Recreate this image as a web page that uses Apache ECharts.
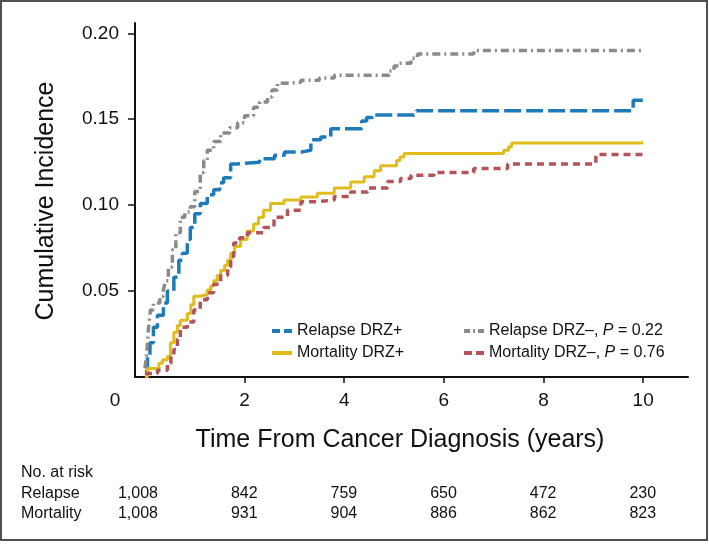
<!DOCTYPE html>
<html><head><meta charset="utf-8">
<script src="https://cdn.jsdelivr.net/npm/echarts@6/dist/echarts.min.js"></script>
<style>html,body{margin:0;padding:0;background:#fff}#c{width:709px;height:544px}</style>
</head><body><div id="c"></div>
<script>
// ---- data ----
const relapsePosX = [0, 0.05, 0.1, 0.17, 0.25, 0.37, 0.45, 0.58, 0.68, 0.75, 0.85, 0.91, 1.0, 1.11, 1.25, 1.38, 1.5, 1.58, 1.72, 1.85, 2.3, 2.6, 2.8, 3.16, 3.33, 3.53, 3.73, 4.35, 4.45, 4.57, 5.4, 5.45, 9.8, 10];
const relapsePosY = [0.003, 0.012, 0.02, 0.029, 0.036, 0.043, 0.05, 0.058, 0.068, 0.072, 0.08, 0.087, 0.095, 0.101, 0.106, 0.109, 0.113, 0.116, 0.124, 0.125, 0.127, 0.129, 0.131, 0.132, 0.138, 0.1396, 0.1445, 0.149, 0.151, 0.1525, 0.1535, 0.155, 0.161, 0.161];

const relapseNegX = [0, 0.04, 0.07, 0.11, 0.17, 0.3, 0.37, 0.41, 0.47, 0.55, 0.62, 0.71, 0.8, 0.91, 1.0, 1.11, 1.18, 1.25, 1.38, 1.52, 1.7, 1.86, 2.0, 2.18, 2.3, 2.46, 2.55, 2.66, 2.86, 3.13, 3.5, 3.8, 4.9, 5.0, 5.1, 5.34, 5.47, 6.6, 10];
const relapseNegY = [0.005, 0.015, 0.028, 0.039, 0.043, 0.047, 0.0505, 0.056, 0.064, 0.074, 0.084, 0.093, 0.096, 0.099, 0.108, 0.119, 0.126, 0.132, 0.137, 0.142, 0.145, 0.148, 0.152, 0.157, 0.16, 0.163, 0.167, 0.171, 0.1715, 0.1727, 0.174, 0.1756, 0.178, 0.181, 0.1826, 0.1855, 0.188, 0.190, 0.190];

const mortPosX = [0, 0.05, 0.28, 0.35, 0.45, 0.51, 0.58, 0.65, 0.71, 0.85, 0.92, 0.98, 1.11, 1.25, 1.32, 1.38, 1.45, 1.52, 1.6, 1.66, 1.72, 1.8, 1.92, 2.05, 2.18, 2.28, 2.38, 2.52, 2.79, 3.13, 3.46, 3.8, 4.13, 4.4, 4.6, 4.73, 5.05, 5.12, 5.2, 7.2, 7.3, 7.36, 10];
const mortPosY = [0.0, 0.005, 0.008, 0.010, 0.012, 0.020, 0.026, 0.03, 0.033, 0.037, 0.042, 0.047, 0.048, 0.0506, 0.053, 0.056, 0.059, 0.062, 0.065, 0.068, 0.072, 0.076, 0.080, 0.085, 0.089, 0.093, 0.097, 0.101, 0.103, 0.1047, 0.107, 0.110, 0.1135, 0.1165, 0.120, 0.123, 0.126, 0.128, 0.130, 0.132, 0.134, 0.1362, 0.1362];

const mortNegX = [0, 0.25, 0.45, 0.52, 0.58, 0.65, 0.71, 0.85, 0.98, 1.11, 1.25, 1.38, 1.52, 1.66, 1.72, 1.78, 1.9, 2.06, 2.38, 2.59, 2.86, 3.13, 3.46, 3.8, 4.13, 4.47, 4.87, 5.13, 5.34, 5.8, 6.6, 7.28, 9.05, 10];
const mortNegY = [0.002, 0.004, 0.008, 0.012, 0.016, 0.022, 0.029, 0.032, 0.039, 0.045, 0.049, 0.054, 0.059, 0.064, 0.07, 0.078, 0.081, 0.084, 0.087, 0.093, 0.097, 0.102, 0.103, 0.105, 0.1077, 0.110, 0.1137, 0.1155, 0.1174, 0.119, 0.1213, 0.124, 0.1295, 0.1295];

const seriesNames = ['Relapse DRZ+', 'Mortality DRZ+', 'Relapse DRZ\u2013, P = 0.22', 'Mortality DRZ\u2013, P = 0.76'];
const xTicks = [2, 4, 6, 8, 10];
const xLabelValues = [0, 2, 4, 6, 8, 10];
const yTicks = [0.05, 0.10, 0.15, 0.20];
const riskTimes = [0, 2, 4, 6, 8, 10];
const riskRelapse = ['1,008', '842', '759', '650', '472', '230'];
const riskMortality = ['1,008', '931', '904', '886', '862', '823'];
const riskRowLabels = ['No. at risk', 'Relapse', 'Mortality'];
const xTitle = 'Time From Cancer Diagnosis (years)';
const yTitle = 'Cumulative Incidence';

// ---- chart ----
const FONT = "'Liberation Sans', Arial, sans-serif";
const INK = '#111111';
function pairs(xs, ys) { return xs.map((x, i) => [x, ys[i]]); }

const chart = echarts.init(document.getElementById('c'), null, { renderer: 'canvas' });

function lineSeries(name, xs, ys, color, type, width) {
  return {
    name: name, type: 'line', step: 'end',
    symbol: 'none', showSymbol: false,
    data: pairs(xs, ys),
    lineStyle: { color: color, width: width, type: type },
    itemStyle: { color: color },
    emphasis: { disabled: true },
    z: 3
  };
}

const legendBase = {
  top: 323, orient: 'vertical', padding: 0, itemWidth: 20, itemHeight: 12, itemGap: 6,
  itemStyle: { opacity: 0 },
  lineStyle: { width: 4 }
};

const option = {
  animation: false,
  backgroundColor: '#fff',
  grid: { left: 135, right: 21, top: 23, bottom: 167, containLabel: false },
  xAxis: {
    type: 'value', min: -0.2, max: 10.9,
    axisLine: { show: true, onZero: false, lineStyle: { color: INK, width: 2 } },
    axisTick: { show: true, length: 6, customValues: xTicks, lineStyle: { color: INK, width: 1.5 } },
    axisLabel: {
      customValues: xLabelValues, margin: 14, fontSize: 19, color: INK, fontFamily: FONT,
      formatter: v => (v === 0 ? '{z|0}' : String(v)),
      rich: { z: { padding: [0, 60, 0, 0], fontSize: 19, color: INK, fontFamily: FONT } }
    },
    splitLine: { show: false }
  },
  yAxis: {
    type: 'value', min: 0, max: 0.206,
    axisLine: { show: true, onZero: false, lineStyle: { color: INK, width: 2 } },
    axisTick: { show: true, length: 7, customValues: yTicks, lineStyle: { color: INK, width: 1.5 } },
    axisLabel: {
      customValues: yTicks, margin: 16, fontSize: 19, color: INK, fontFamily: FONT,
      formatter: v => Number(v).toFixed(2)
    },
    splitLine: { show: false }
  },
  legend: [
    Object.assign({}, legendBase, {
      left: 270,
      data: [
        { name: seriesNames[0], lineStyle: { type: [8, 4], width: 4 } },
        { name: seriesNames[1], lineStyle: { type: 'solid', width: 4 } }
      ],
      textStyle: { fontFamily: FONT, fontSize: 16, color: INK }
    }),
    Object.assign({}, legendBase, {
      left: 462,
      data: [
        { name: seriesNames[2], lineStyle: { type: [6, 3, 2, 3], width: 4 } },
        { name: seriesNames[3], lineStyle: { type: [8, 4], width: 4 } }
      ],
      formatter: n => n.replace('P =', '{i|P} ='),
      textStyle: { fontFamily: FONT, fontSize: 16, color: INK,
        rich: { i: { fontStyle: 'italic', fontFamily: FONT, fontSize: 16, color: INK } } }
    })
  ],
  series: [
    lineSeries(seriesNames[0], relapsePosX, relapsePosY, '#1f7ab8', [17, 5], 3.5),
    lineSeries(seriesNames[1], mortPosX, mortPosY, '#e0bd1c', 'solid', 3),
    lineSeries(seriesNames[2], relapseNegX, relapseNegY, '#8a8a8a', [8, 4, 2, 4], 3.5),
    lineSeries(seriesNames[3], mortNegX, mortNegY, '#b3545a', [7, 5], 3.5)
  ]
};
chart.setOption(option);

// texts placed with the chart's own x scale
const g = [];
g.push({ type: 'rect', shape: { x: 1, y: 1, width: 706, height: 539 }, style: { fill: 'none', stroke: '#505050', lineWidth: 2 }, silent: true });
g.push({ type: 'text', x: 400, y: 440, style: { text: xTitle, font: '25px ' + FONT, fill: INK, align: 'center', verticalAlign: 'middle', textAlign: 'center', textVerticalAlign: 'middle' } });
g.push({ type: 'text', x: 46, y: 201, rotation: Math.PI / 2, style: { text: yTitle, font: '25px ' + FONT, fill: INK, align: 'center', verticalAlign: 'middle', textAlign: 'center', textVerticalAlign: 'middle' } });
const rowY = [473, 494, 514];
riskRowLabels.forEach((t, i) => {
  g.push({ type: 'text', x: 21, y: rowY[i], style: { text: t, font: '16px ' + FONT, fill: INK, align: 'left', verticalAlign: 'middle', textAlign: 'left', textVerticalAlign: 'middle' } });
});
riskTimes.forEach((t, i) => {
  const px = chart.convertToPixel({ xAxisIndex: 0 }, t) + 13;
  [riskRelapse[i], riskMortality[i]].forEach((txt, r) => {
    g.push({ type: 'text', x: px, y: rowY[r + 1], style: { text: txt, font: '16px ' + FONT, fill: INK, align: 'right', verticalAlign: 'middle', textAlign: 'right', textVerticalAlign: 'middle' } });
  });
});
chart.setOption({ graphic: g });
</script></body></html>
